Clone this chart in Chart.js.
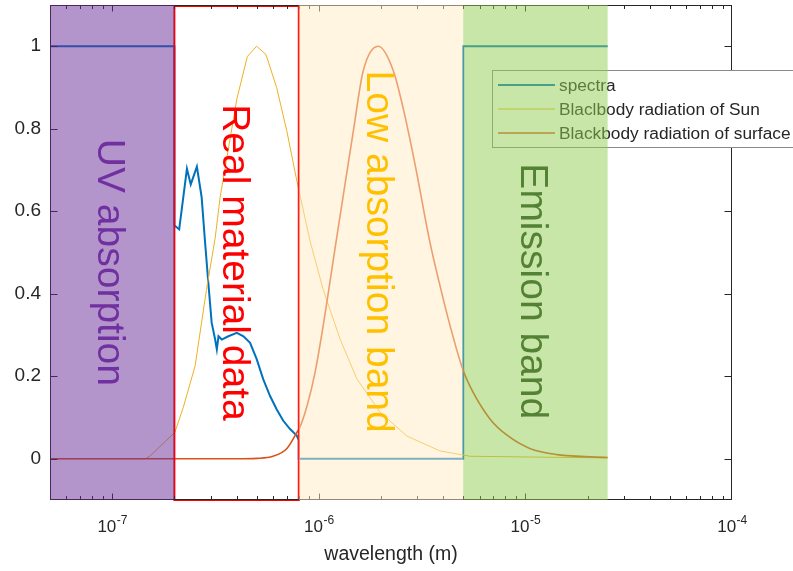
<!DOCTYPE html>
<html><head><meta charset="utf-8">
<script src="https://cdn.jsdelivr.net/npm/chart.js@4/dist/chart.umd.min.js"></script>
<style>html,body{margin:0;padding:0;background:#fff;overflow:hidden}</style>
</head><body>
<canvas id="c" width="793" height="571"></canvas>
<script>
// ---------- data ----------
const seriesNames = ['spectra', 'Blaclbody radiation of Sun', 'Blackbody radiation of surface'];

const spectraWavelength = [5e-8, 2e-7, 2e-7, 2.11e-7, 2.30e-7, 2.40e-7, 2.57e-7, 2.71e-7, 2.81e-7, 2.92e-7, 3.03e-7, 3.15e-7, 3.21e-7, 3.27e-7, 3.39e-7, 3.65e-7, 4.01e-7, 4.32e-7, 4.65e-7, 5.01e-7, 5.38e-7, 5.81e-7, 6.25e-7, 6.73e-7, 7.26e-7, 7.82e-7, 8.0e-7, 8.0e-7, 5e-6, 5e-6, 2.5e-5];
const spectraValue      = [1, 1, 0.566, 0.556, 0.703, 0.665, 0.708, 0.634, 0.53, 0.426, 0.33, 0.289, 0.265, 0.297, 0.289, 0.297, 0.305, 0.297, 0.281, 0.241, 0.193, 0.152, 0.12, 0.092, 0.072, 0.056, 0.045, 0, 0, 1, 1];

const sunWavelength = [5e-8, 1.45e-7, 1.52e-7, 2.01e-7, 2.21e-7, 2.52e-7, 2.86e-7, 3.15e-7, 3.33e-7, 3.72e-7, 4.01e-7, 4.51e-7, 5.0e-7, 5.55e-7, 6.25e-7, 7.0e-7, 7.82e-7, 9.05e-7, 1.05e-6, 1.27e-6, 1.53e-6, 1.98e-6, 2.67e-6, 3.86e-6, 5.4e-6, 2.5e-5];
const sunValue      = [0, 0, 0.006, 0.064, 0.125, 0.225, 0.41, 0.535, 0.634, 0.775, 0.872, 0.975, 1.0, 0.98, 0.90, 0.795, 0.675, 0.53, 0.41, 0.289, 0.193, 0.113, 0.055, 0.019, 0.006, 0.002];

const surfaceWavelength = [5e-8, 4.0e-7, 5.02e-7, 6.0e-7, 7.01e-7, 7.86e-7, 8.11e-7, 8.77e-7, 9.6e-7, 1.05e-6, 1.11e-6, 1.20e-6, 1.31e-6, 1.47e-6, 1.64e-6, 1.94e-6, 2.29e-6, 2.56e-6, 2.92e-6, 3.45e-6, 3.99e-6, 4.47e-6, 4.99e-6, 5.57e-6, 6.75e-6, 8.15e-6, 1.05e-5, 1.42e-5, 2.5e-5];
const surfaceValue      = [0, 0, 0.001, 0.006, 0.025, 0.065, 0.077, 0.128, 0.21, 0.322, 0.40, 0.512, 0.634, 0.795, 0.94, 1.0, 0.942, 0.85, 0.715, 0.525, 0.39, 0.295, 0.215, 0.162, 0.096, 0.057, 0.025, 0.010, 0.003];

const bandLabels = ['UV absorption', 'Real material data', 'Low absorption band', 'Emission band'];
const bandStart  = [5e-8, 2e-7, 8e-7, 5e-6];
const bandEnd    = [2e-7, 8e-7, 5e-6, 2.5e-5];
const bandLabelY = [0.476, 0.476, 0.502, 0.406];

const xTickValues = [1e-7, 1e-6, 1e-5, 1e-4];
const xTickBase = ['10', '10', '10', '10'];
const xTickExp  = ['-7', '-6', '-5', '-4'];
const yTickValues = [0, 0.2, 0.4, 0.6, 0.8, 1];
const yTickLabels = ['0', '0.2', '0.4', '0.6', '0.8', '1'];
const xTitle = 'wavelength (m)';

// ---------- styles ----------
const FONT = '"Liberation Sans", Arial, Helvetica, sans-serif';
const AXIS = '#262626';
const lineColors = ['#0072BD', '#EDB120', '#D95319'];
const lineWidths = [2, 1, 1.6];
const bandFill = ['rgba(103,43,153,0.5)', null, 'rgba(255,235,195,0.5)', 'rgba(145,205,81,0.5)'];
const bandText = ['#7030A0', '#FF0000', '#FFC000', '#548235'];

function pts(xs, ys) { return xs.map((x, i) => ({x: x, y: ys[i]})); }

const decor = {
  id: 'decor',
  afterDatasetsDraw(chart) {
    const c = chart.ctx, a = chart.chartArea, xs = chart.scales.x, ys = chart.scales.y;
    c.save();
    // red frame of "Real material data"
    const r0 = xs.getPixelForValue(bandStart[1]), r1 = xs.getPixelForValue(bandEnd[1]);
    c.strokeStyle = '#FF0000'; c.lineWidth = 2;
    c.strokeRect(r0, a.top + 1, r1 - r0, a.bottom - a.top - 1);

    // axis box
    c.strokeStyle = AXIS; c.lineWidth = 1;
    c.strokeRect(Math.round(a.left) + 0.5, Math.round(a.top) + 0.5, Math.round(a.right - a.left) - 1, Math.round(a.bottom - a.top) - 1);
    // ticks
    c.beginPath();
    const B = Math.round(a.bottom) - 0.5, T = Math.round(a.top) + 0.5;
    for (let e = -8; e <= -5; e++) {
      for (let m = 1; m <= 9; m++) {
        const v = m * Math.pow(10, e);
        if (v < xs.min * 0.999 || v > xs.max * 1.001) continue;
        const px = Math.round(xs.getPixelForValue(v)) + 0.5;
        const len = m === 1 ? 6 : 3.5;
        c.moveTo(px, B); c.lineTo(px, B - len);
        c.moveTo(px, T); c.lineTo(px, T + len);
      }
    }
    {
      const px = Math.round(xs.getPixelForValue(1e-4)) - 0.5;
      c.moveTo(px, B); c.lineTo(px, B - 6); c.moveTo(px, T); c.lineTo(px, T + 6);
    }
    const L = Math.round(a.left) + 0.5, R = Math.round(a.right) - 0.5;
    yTickValues.forEach(v => {
      const py = Math.round(ys.getPixelForValue(v)) + 0.5;
      c.moveTo(L, py); c.lineTo(L + 7, py);
      c.moveTo(R, py); c.lineTo(R - 7, py);
    });
    c.stroke();

    // x tick labels with superscript exponent
    c.fillStyle = AXIS; c.textBaseline = 'alphabetic'; c.textAlign = 'left';
    xTickValues.forEach((v, i) => {
      const px = xs.getPixelForValue(v);
      c.font = '17px ' + FONT; const w1 = c.measureText(xTickBase[i]).width;
      c.font = '12px ' + FONT; const w2 = c.measureText(xTickExp[i]).width;
      const x0 = px - (w1 + w2) / 2;
      c.font = '17px ' + FONT; c.fillText(xTickBase[i], x0, 532);
      c.font = '12px ' + FONT; c.fillText(xTickExp[i], x0 + w1 + 0.5, 524);
    });

    // legend
    const lx = 492.5, ly = 70.5, lw = 320, lh = 77;
    c.fillStyle = '#fff'; c.fillRect(lx, ly, lw, lh);
    c.strokeStyle = '#8a8a8a'; c.lineWidth = 1; c.strokeRect(lx, ly, lw, lh);
    c.font = '17.3px ' + FONT; c.textBaseline = 'middle'; c.textAlign = 'left';
    chart.data.datasets.forEach((ds, i) => {
      const yy = 85 + i * 24;
      c.strokeStyle = ds.borderColor; c.lineWidth = ds.borderWidth;
      c.beginPath(); c.moveTo(498, yy); c.lineTo(555, yy); c.stroke();
      c.fillStyle = AXIS; c.fillText(ds.label, 559, yy + 1);
    });

    // translucent bands
    bandFill.forEach((f, i) => {
      if (!f) return;
      const p0 = xs.getPixelForValue(bandStart[i]), p1 = xs.getPixelForValue(bandEnd[i]);
      c.fillStyle = f;
      c.fillRect(p0, a.top, p1 - p0, a.bottom - a.top);
    });

    // rotated band labels
    c.font = '39px ' + FONT; c.textAlign = 'center'; c.textBaseline = 'alphabetic';
    bandLabels.forEach((t, i) => {
      const cx = xs.getPixelForValue(Math.sqrt(bandStart[i] * bandEnd[i]));
      const cy = ys.getPixelForValue(bandLabelY[i]);
      c.save();
      c.translate(cx - 14, cy);
      c.rotate(Math.PI / 2);
      c.fillStyle = bandText[i];
      c.fillText(t, 0, 0);
      c.restore();
    });
    c.restore();
  }
};

new Chart(document.getElementById('c'), {
  type: 'scatter',
  data: {
    datasets: [
      {label: seriesNames[0], data: pts(spectraWavelength, spectraValue)},
      {label: seriesNames[1], data: pts(sunWavelength, sunValue)},
      {label: seriesNames[2], data: pts(surfaceWavelength, surfaceValue), cubicInterpolationMode: 'monotone'}
    ].map((d, i) => Object.assign(d, {
      showLine: true, borderColor: lineColors[i], backgroundColor: lineColors[i],
      borderWidth: lineWidths[i], pointRadius: 0, tension: i === 2 ? 0.4 : 0, order: 3 - i, fill: false
    }))
  },
  options: {
    responsive: false, animation: false, devicePixelRatio: 1,
    layout: {padding: {left: 0, right: 61, top: 5, bottom: 0}},
    plugins: {legend: {display: false}, tooltip: {enabled: false}},
    scales: {
      x: {
        type: 'logarithmic', min: 5e-8, max: 1e-4,
        afterBuildTicks: s => { s.ticks = xTickValues.map(v => ({value: v})); },
        afterFit: s => { s.height = 71; s.paddingLeft = 0; s.paddingRight = 0; },
        grid: {display: false, drawTicks: false}, border: {display: false},
        ticks: {display: false},
        title: {display: true, text: xTitle, color: AXIS, font: {family: FONT, size: 19.5}, padding: {top: 0, bottom: 5}}
      },
      y: {
        min: -0.1, max: 1.1,
        afterBuildTicks: s => { s.ticks = yTickValues.map(v => ({value: v})); },
        afterFit: s => { s.width = 50; s.paddingTop = 0; s.paddingBottom = 0; },
        grid: {display: false, drawTicks: false}, border: {display: false},
        ticks: {callback: (v, i) => yTickLabels[i], color: AXIS, font: {family: FONT, size: 19}, padding: 9}
      }
    }
  },
  plugins: [decor]
});
</script>
</body></html>
